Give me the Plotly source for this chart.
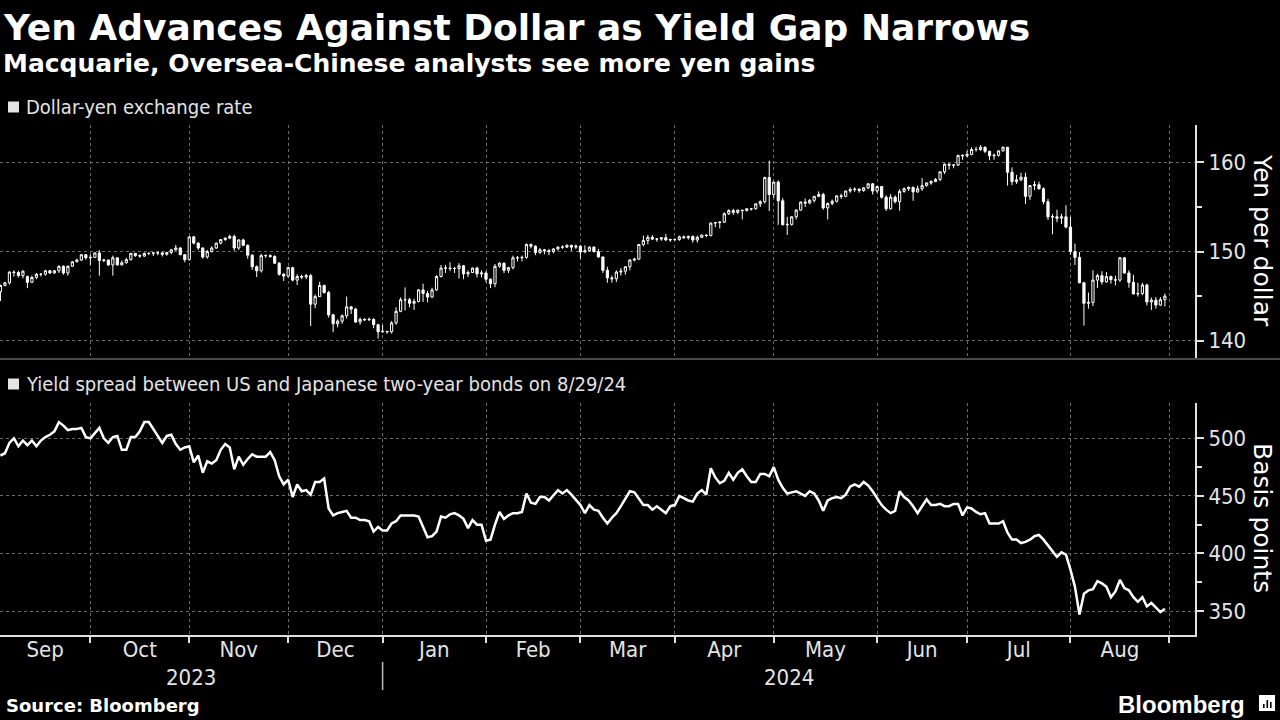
import pandas as pd
import plotly.graph_objects as go

# ---------------- data ----------------
start_date = "2023-09-01"
end_date = "2024-08-29"

usd_open = [
    145.5, 146.2, 146.5, 147.7, 147.65, 147.3, 147.2, 146.55, 147.1, 147.45, 147.45, 147.85, 147.6, 147.85, 148.35, 147.6, 148.35, 148.85, 149.05, 149.65, 149.3,
    149.35, 149.85, 149.0, 149.05, 148.5, 149.3, 148.5, 148.75, 149.1, 149.8, 149.55, 149.5, 149.8, 149.8, 149.85, 149.85, 149.7, 149.9, 150.2, 150.4, 149.65, 149.1,
    151.65, 150.95, 150.4, 149.4, 150.0, 150.4, 150.95, 151.35, 151.5, 151.7, 150.4, 151.3, 150.7, 149.6, 148.3, 147.85, 149.55, 149.55, 149.45, 148.7, 147.45, 147.25,
    148.2, 146.8, 147.2, 147.15, 147.3, 144.1, 144.95, 146.2, 145.4, 142.9, 141.9, 142.2, 142.8, 143.8, 143.55, 142.1, 142.4, 142.35, 142.4, 141.8, 141.0,
    141.05, 141.0, 142.0, 143.3, 144.6, 144.6, 144.2, 144.4, 145.7, 145.3, 144.9, 145.7, 147.2, 148.15, 148.15, 148.1, 148.1, 148.4, 147.5, 147.65, 148.15, 147.5, 147.6,
    146.9, 146.4, 148.35, 148.7, 147.9, 148.2, 149.3, 149.3, 149.35, 150.8, 150.6, 149.9, 150.2, 150.1, 150.0, 150.3, 150.5, 150.5, 150.7, 150.5, 150.6,
    149.95, 150.1, 150.5, 150.0, 149.4, 147.9, 147.05, 146.95, 147.7, 147.8, 148.3, 149.05, 149.15, 150.8, 151.25, 151.6, 151.4, 151.4, 151.55, 151.3, 151.35,
    151.35, 151.65, 151.55, 151.7, 151.3, 151.6, 151.85, 151.8, 153.2, 153.25, 153.3, 154.25, 154.6, 154.4, 154.65, 154.6, 154.8, 154.8, 155.35, 155.6, 158.3, 156.4,
    157.8, 155.7, 153.0, 153.05, 153.9, 154.65, 155.55, 155.45, 155.75, 156.2, 156.4, 154.9, 155.4, 155.65, 156.25, 156.2, 156.8, 156.95, 157.0, 156.85, 157.15, 157.6, 156.8,
    157.3, 156.1, 154.8, 156.1, 155.6, 156.75, 157.05, 157.2, 156.7, 157.05, 157.4, 157.7, 157.85, 158.1, 158.95, 159.8, 159.7, 159.7, 160.8, 160.75,
    160.9, 161.45, 161.45, 161.7, 161.25, 160.75, 160.8, 161.3, 161.7, 158.9, 157.85, 158.05, 158.35, 156.2, 157.4, 157.5, 157.05, 155.6, 153.9, 153.9, 153.75, 153.9, 152.75,
    150.0, 149.35, 146.5, 144.2, 144.3, 146.8, 147.3, 146.6, 147.2, 146.85, 146.8, 149.3, 147.6, 146.55, 145.25, 145.3, 146.25, 144.35, 144.55, 144.0, 144.6,
]
usd_high = [
    146.3, 146.6, 147.8, 147.9, 147.85, 147.9, 147.3, 147.3, 147.6, 147.6, 147.95, 147.95, 147.95, 148.45, 148.45, 148.45, 148.95, 149.2, 149.7, 149.7, 149.7,
    149.9, 150.16, 149.2, 149.1, 149.55, 149.3, 149.0, 149.3, 149.85, 149.85, 149.7, 149.9, 149.9, 149.9, 150.0, 150.0, 149.95, 150.3, 150.75, 150.5, 149.7, 151.7,
    151.75, 151.05, 150.5, 150.2, 150.6, 151.0, 151.4, 151.6, 151.9, 151.9, 151.4, 151.45, 150.8, 149.7, 148.45, 149.75, 149.7, 149.7, 149.6, 148.8, 147.6, 148.3,
    148.3, 147.45, 147.4, 147.5, 147.5, 145.2, 146.6, 146.3, 145.6, 143.0, 142.4, 142.95, 144.95, 143.9, 143.7, 142.6, 142.5, 142.6, 142.5, 141.9, 141.75,
    141.1, 142.2, 143.75, 144.85, 145.98, 144.8, 144.7, 145.8, 146.4, 145.6, 145.95, 147.35, 148.5, 148.5, 148.8, 148.3, 148.7, 148.5, 147.9, 148.2, 148.3, 147.9, 147.8,
    147.0, 148.6, 148.8, 148.75, 148.3, 149.55, 149.5, 149.55, 150.9, 150.9, 150.7, 150.4, 150.3, 150.3, 150.35, 150.6, 150.7, 150.8, 150.75, 150.8, 150.7,
    150.7, 150.6, 150.6, 150.3, 149.4, 148.3, 147.3, 147.9, 148.15, 148.35, 149.15, 149.3, 150.85, 151.8, 151.85, 151.85, 151.5, 151.6, 151.97, 151.45, 151.5,
    151.8, 151.8, 151.8, 151.8, 151.8, 151.9, 151.95, 153.25, 153.3, 153.4, 154.4, 154.75, 154.8, 154.7, 154.65, 154.85, 154.9, 155.4, 155.75, 158.4, 160.2, 157.85,
    157.99, 156.0, 153.9, 154.0, 154.75, 155.65, 155.95, 155.9, 156.2, 156.75, 156.6, 155.5, 155.85, 156.3, 156.5, 156.8, 157.2, 157.2, 157.1, 157.25, 157.7, 157.7, 157.3,
    157.35, 156.3, 156.45, 156.3, 157.0, 157.2, 157.3, 157.3, 157.4, 158.25, 157.75, 158.0, 158.25, 159.0, 159.9, 159.9, 159.8, 160.85, 160.9, 161.3,
    161.7, 161.75, 161.95, 161.8, 161.3, 161.0, 161.35, 161.8, 161.75, 159.45, 158.6, 158.85, 158.85, 157.4, 157.9, 157.85, 157.2, 155.9, 154.2, 154.7, 154.25, 155.2, 153.9,
    150.9, 149.95, 146.6, 145.4, 147.9, 147.5, 147.8, 147.7, 147.3, 147.3, 149.4, 149.35, 147.9, 147.4, 146.5, 146.5, 146.4, 144.85, 144.9, 144.9, 145.3,
]
usd_low = [
    144.45, 146.1, 146.3, 147.2, 147.1, 147.0, 145.9, 146.5, 146.9, 147.2, 147.3, 147.5, 147.5, 147.6, 147.4, 147.3, 148.3, 148.8, 148.95, 149.1, 148.5,
    149.3, 147.3, 148.8, 148.4, 147.3, 148.45, 148.45, 148.65, 149.0, 149.4, 149.3, 149.4, 149.6, 149.5, 149.6, 149.45, 149.55, 149.7, 150.1, 149.6, 148.8, 149.0,
    150.8, 150.2, 149.2, 149.2, 149.9, 150.3, 150.8, 151.2, 151.4, 150.1, 150.2, 150.6, 149.2, 147.95, 147.15, 147.65, 149.3, 149.3, 148.6, 147.3, 146.7, 147.1,
    146.65, 146.25, 146.9, 146.9, 141.65, 143.65, 144.9, 145.3, 142.6, 140.95, 141.5, 141.9, 142.5, 143.0, 142.0, 141.8, 142.2, 142.2, 141.4, 140.25, 140.9,
    140.8, 140.8, 141.8, 143.2, 143.4, 143.75, 143.45, 144.3, 144.35, 144.3, 144.8, 145.6, 147.1, 147.6, 147.8, 147.6, 146.98, 146.9, 147.15, 147.6, 147.1, 147.1, 146.55,
    145.9, 146.0, 148.2, 147.6, 147.6, 148.0, 148.9, 148.9, 149.2, 150.35, 149.6, 149.75, 149.7, 149.6, 149.8, 150.1, 150.3, 150.4, 150.1, 150.3, 149.2,
    149.85, 150.0, 149.9, 149.3, 147.6, 146.5, 146.5, 146.6, 147.3, 147.4, 147.9, 148.9, 149.1, 150.6, 150.8, 151.3, 151.1, 151.2, 151.2, 151.1, 151.2,
    151.2, 151.5, 151.35, 151.0, 151.0, 151.6, 151.6, 151.7, 152.75, 152.6, 153.2, 154.1, 154.1, 154.2, 153.6, 154.5, 154.6, 154.7, 155.0, 155.4, 154.55, 156.0,
    153.0, 152.95, 151.86, 152.9, 153.6, 154.6, 155.0, 155.3, 155.5, 156.1, 154.7, 153.6, 155.2, 155.5, 155.9, 156.1, 156.6, 156.7, 156.6, 156.7, 157.0, 156.4, 156.6,
    155.95, 154.55, 154.7, 155.4, 154.6, 156.6, 156.8, 155.7, 156.6, 156.8, 157.3, 157.5, 157.8, 157.9, 158.7, 159.2, 159.35, 159.6, 160.3, 160.6,
    160.8, 161.2, 161.3, 161.05, 160.25, 160.3, 160.65, 161.2, 157.4, 157.45, 157.6, 157.9, 155.35, 155.8, 156.9, 156.95, 155.3, 153.55, 151.95, 153.3, 153.1, 152.6, 149.65,
    148.5, 146.45, 141.7, 143.6, 143.9, 145.9, 146.3, 146.5, 146.4, 146.2, 146.6, 147.5, 145.95, 145.2, 144.95, 145.1, 143.95, 143.45, 143.6, 143.9, 143.85,
]
usd_close = [
    146.2, 146.5, 147.7, 147.65, 147.3, 147.8, 146.55, 147.1, 147.45, 147.45, 147.85, 147.6, 147.85, 148.35, 147.6, 148.35, 148.85, 149.05, 149.65, 149.3, 149.35,
    149.85, 149.0, 149.05, 148.5, 149.3, 148.5, 148.75, 149.1, 149.8, 149.55, 149.5, 149.8, 149.8, 149.85, 149.85, 149.7, 149.9, 150.2, 150.4, 149.65, 149.1, 151.65,
    150.95, 150.4, 149.4, 150.0, 150.4, 150.95, 151.35, 151.5, 151.7, 150.4, 151.3, 150.7, 149.6, 148.3, 147.85, 149.55, 149.55, 149.45, 148.7, 147.45, 147.25, 148.2,
    146.8, 147.2, 147.15, 147.3, 144.1, 144.95, 146.2, 145.4, 142.9, 141.9, 142.2, 142.8, 143.8, 143.55, 142.1, 142.4, 142.35, 142.4, 141.8, 141.0, 141.05,
    141.0, 142.0, 143.3, 144.6, 144.6, 144.2, 144.4, 145.7, 145.3, 144.9, 145.7, 147.2, 148.15, 148.15, 148.1, 148.1, 148.4, 147.5, 147.65, 148.15, 147.5, 147.6, 146.9,
    146.4, 148.35, 148.7, 147.9, 148.2, 149.3, 149.3, 149.35, 150.8, 150.6, 149.9, 150.2, 150.1, 150.0, 150.3, 150.5, 150.5, 150.7, 150.5, 150.6, 149.95,
    150.1, 150.5, 150.0, 149.4, 147.9, 147.05, 146.95, 147.7, 147.8, 148.3, 149.05, 149.15, 150.8, 151.25, 151.6, 151.4, 151.4, 151.55, 151.3, 151.35, 151.35,
    151.65, 151.55, 151.7, 151.3, 151.6, 151.85, 151.8, 153.2, 153.25, 153.3, 154.25, 154.6, 154.4, 154.65, 154.6, 154.8, 154.8, 155.35, 155.6, 158.3, 156.4, 157.8,
    155.7, 153.0, 153.05, 153.9, 154.65, 155.55, 155.45, 155.75, 156.2, 156.4, 154.9, 155.4, 155.65, 156.25, 156.2, 156.8, 156.95, 157.0, 156.85, 157.15, 157.6, 156.8, 157.3,
    156.1, 154.8, 156.1, 155.6, 156.75, 157.05, 157.2, 156.7, 157.05, 157.4, 157.7, 157.85, 158.1, 158.95, 159.8, 159.7, 159.7, 160.8, 160.75, 160.9,
    161.45, 161.45, 161.7, 161.25, 160.75, 160.8, 161.3, 161.7, 158.9, 157.85, 158.05, 158.35, 156.2, 157.4, 157.5, 157.05, 155.6, 153.9, 153.9, 153.75, 153.9, 152.75, 150.0,
    149.35, 146.5, 144.2, 144.3, 146.8, 147.3, 146.6, 147.2, 146.85, 146.8, 149.3, 147.6, 146.55, 145.25, 145.3, 146.25, 144.35, 144.55, 144.0, 144.6, 145.0,
]
spread_bp = [
    485, 487, 496, 500, 493, 498, 494, 498, 493, 498, 501, 503, 506, 514, 511, 507, 508, 508, 509, 501, 500,
    505, 509, 500, 496, 501, 502, 490, 490, 501, 501, 506, 514, 514, 508, 501, 496, 502, 503, 495, 490, 492, 493,
    479, 485, 470, 480, 478, 481, 490, 495, 492, 473, 484, 477, 482, 486, 484, 484, 484, 488, 481, 467, 460, 464,
    449, 460, 454, 455, 451, 462, 462, 465, 439, 433, 435, 436, 437, 431, 431, 429, 429, 428, 419, 423, 420,
    420, 426, 428, 433, 433, 433, 433, 432, 423, 414, 415, 419, 432, 431, 434, 435, 433, 430, 422, 429, 425, 425, 411,
    412, 425, 436, 430, 433, 435, 435, 436, 452, 444, 443, 449, 449, 446, 451, 455, 452, 455, 451, 446, 442,
    435, 442, 438, 437, 431, 426, 431, 435, 441, 447, 454, 453, 448, 442, 442, 438, 441, 438, 435, 441, 442,
    450, 448, 446, 445, 452, 455, 451, 474, 466, 461, 463, 470, 464, 470, 473, 467, 462, 462, 469, 469, 467, 475,
    464, 457, 452, 453, 454, 452, 450, 454, 452, 446, 437, 446, 448, 449, 448, 451, 458, 460, 458, 462, 459, 454, 448,
    442, 438, 435, 437, 454, 449, 446, 441, 435, 441, 447, 442, 442, 443, 441, 441, 443, 443, 433, 440,
    439, 436, 434, 435, 426, 426, 426, 428, 418, 412, 412, 409, 410, 412, 415, 416, 412, 407, 402, 397, 401, 399, 386,
    371, 347, 365, 368, 369, 376, 374, 371, 362, 367, 377, 370, 368, 362, 358, 362, 354, 357, 353, 349, 352,
]
month_labels = ["Sep", "Oct", "Nov", "Dec", "Jan", "Feb", "Mar", "Apr", "May", "Jun", "Jul", "Aug"]
year_labels = ["2023", "2024"]
usd_ticks = [140, 150, 160]
usd_minor = [145, 155]
bp_ticks = [350, 400, 450, 500]
bp_minor = [375, 425, 475]

# ---------------- x positions: one slot per weekday ----------------
dates = pd.bdate_range(start_date, end_date)
n = len(dates)
lens = [len(usd_open), len(usd_high), len(usd_low), len(usd_close), len(spread_bp)]
if any(l != n for l in lens):
    raise SystemExit(f"length mismatch: dates={n}, series={lens}")
x_idx = list(range(n))

ext = pd.bdate_range(start_date, "2024-09-13")
boundaries = [k for k in range(len(ext) - 1) if ext[k].month != ext[k + 1].month][:12]
x_min, x_max = -0.1, 265.7
edges = [x_min] + boundaries
centers = [(edges[k] + edges[k + 1]) / 2 for k in range(12)]
year_split = boundaries[3]
year_pos = [(x_min + year_split) / 2, (year_split + x_max) / 2]

# ---------------- layout geometry ----------------
W, H = 1280, 720
ML, MR, MT, MB = 0, 85, 125, 85
PW, PH = W - ML - MR, H - MT - MB


def fx(p):
    return (p - ML) / PW


def fy(p):
    return (H - MB - p) / PH


COND = "DejaVu Sans Condensed, DejaVu Sans, sans-serif"
SANS = "DejaVu Sans, sans-serif"
TXT = "#e4e4e4"
GRID = "#6a6a6a"
AXIS = "#e0e0e0"

fig = go.Figure()
fig.add_trace(go.Candlestick(
    x=x_idx, open=usd_open, high=usd_high, low=usd_low, close=usd_close,
    increasing=dict(line=dict(color="white", width=1), fillcolor="black"),
    decreasing=dict(line=dict(color="white", width=1), fillcolor="white"),
    whiskerwidth=0, xaxis="x", yaxis="y", showlegend=False, name="USDJPY",
))
fig.add_trace(go.Scatter(
    x=x_idx, y=spread_bp, mode="lines", line=dict(color="white", width=2.5),
    xaxis="x2", yaxis="y2", showlegend=False, name="Spread",
))

minor_grid = dict(tickvals=boundaries, showgrid=True, gridcolor=GRID, griddash="dot", gridwidth=1)

fig.update_layout(
    width=W, height=H,
    margin=dict(l=ML, r=MR, t=MT, b=MB),
    paper_bgcolor="black", plot_bgcolor="black",
    showlegend=False,
    xaxis=dict(
        domain=[0, 1], anchor="y", range=[x_min, x_max],
        tickmode="array", tickvals=centers, showticklabels=False, ticks="",
        showgrid=False, zeroline=False, showline=False,
        rangeslider=dict(visible=False),
        minor=dict(**minor_grid, ticks=""),
    ),
    xaxis2=dict(
        domain=[0, 1], anchor="y2", range=[x_min, x_max],
        tickmode="array", tickvals=centers, ticktext=month_labels, ticks="",
        ticklabelstandoff=-6,
        showgrid=False, zeroline=False,
        showline=True, linecolor=AXIS, linewidth=2,
        tickfont=dict(family=COND, size=22, color=TXT),
        minor=dict(**minor_grid, ticks="outside", ticklen=6, tickcolor=AXIS, tickwidth=1.5),
    ),
    yaxis=dict(
        domain=[fy(359), fy(125)], anchor="x", side="right",
        range=[137.95, 164.2], tickmode="array", tickvals=usd_ticks,
        ticks="outside", ticklen=7, tickwidth=2, tickcolor=AXIS,
        showline=True, linecolor=AXIS, linewidth=2,
        showgrid=True, gridcolor=GRID, griddash="dot", gridwidth=1, zeroline=False,
        tickfont=dict(family=COND, size=22, color=TXT),
        minor=dict(tickvals=usd_minor, ticks="outside", ticklen=5, tickwidth=1.5, tickcolor=AXIS, showgrid=False),
    ),
    yaxis2=dict(
        domain=[0, fy(403)], anchor="x2", side="right",
        range=[329.2, 530.6], tickmode="array", tickvals=bp_ticks,
        ticks="outside", ticklen=7, tickwidth=2, tickcolor=AXIS,
        showline=True, linecolor=AXIS, linewidth=2,
        showgrid=True, gridcolor=GRID, griddash="dot", gridwidth=1, zeroline=False,
        tickfont=dict(family=COND, size=22, color=TXT),
        minor=dict(tickvals=bp_minor, ticks="outside", ticklen=5, tickwidth=1.5, tickcolor=AXIS, showgrid=False),
    ),
)

ann = []
ann.append(dict(text="<b>Yen Advances Against Dollar as Yield Gap Narrows</b>", x=fx(1), y=fy(27),
                font=dict(family=SANS, size=36, color="white")))
ann.append(dict(text="<b>Macquarie, Oversea-Chinese analysts see more yen gains</b>", x=fx(1), y=fy(64),
                font=dict(family=SANS, size=25, color="white")))
ann.append(dict(text="Dollar-yen exchange rate", x=fx(24), y=fy(107),
                font=dict(family=COND, size=20, color=TXT)))
ann.append(dict(text="Yield spread between US and Japanese two-year bonds on 8/29/24", x=fx(24), y=fy(384),
                font=dict(family=COND, size=20, color=TXT)))
ann.append(dict(text="<b>Source: Bloomberg</b>", x=fx(4), y=fy(705),
                font=dict(family=SANS, size=18, color="white")))
for a in ann:
    a.update(xref="paper", yref="paper", xanchor="left", yanchor="middle", showarrow=False)

for txt, yc in [("Yen per dollar", 240), ("Basis points", 518)]:
    ann.append(dict(text=txt, x=fx(1263), y=fy(yc), xref="paper", yref="paper", textangle=90,
                    xanchor="center", yanchor="middle", showarrow=False,
                    font=dict(family=SANS, size=25, color="white")))
for txt, xp in zip(year_labels, year_pos):
    ann.append(dict(text=txt, x=xp, y=fy(677), xref="x2", yref="paper", xanchor="center", yanchor="middle",
                    showarrow=False, font=dict(family=COND, size=22, color=TXT)))
ann.append(dict(text="<b>Bloomberg</b>", x=fx(1247), y=fy(704), xref="paper", yref="paper",
                xanchor="right", yanchor="middle", showarrow=False,
                font=dict(family="Liberation Sans, Arial, sans-serif", size=24, color="white")))
fig.update_layout(annotations=ann)

shapes = []
# separator under the top panel
shapes.append(dict(type="line", xref="paper", yref="paper", x0=0, x1=fx(1280), y0=fy(359), y1=fy(359),
                   line=dict(color="#4a4a4a", width=2)))
# legend squares
for yc in (107, 384):
    shapes.append(dict(type="rect", xref="paper", yref="paper", x0=fx(8), x1=fx(19), y0=fy(yc + 5.5), y1=fy(yc - 5.5),
                       fillcolor=TXT, line=dict(width=0)))
# year separator
shapes.append(dict(type="line", xref="x2", yref="paper", x0=year_split, x1=year_split, y0=fy(662), y1=fy(690),
                   line=dict(color="#bdbdbd", width=1.5)))
# small logo icon
shapes.append(dict(type="rect", xref="paper", yref="paper", x0=fx(1259), x1=fx(1275), y0=fy(711), y1=fy(695),
                   fillcolor="white", line=dict(width=0)))
for bx, top in [(1263, 704), (1266.5, 700), (1270, 702)]:
    shapes.append(dict(type="rect", xref="paper", yref="paper", x0=fx(bx), x1=fx(bx + 1.6), y0=fy(708), y1=fy(top),
                       fillcolor="black", line=dict(width=0)))
fig.update_layout(shapes=shapes)

fig.write_html(
    "out.html",
    config={"displayModeBar": False},
    post_script="document.body.style.margin='0';document.body.style.background='black';",
)
